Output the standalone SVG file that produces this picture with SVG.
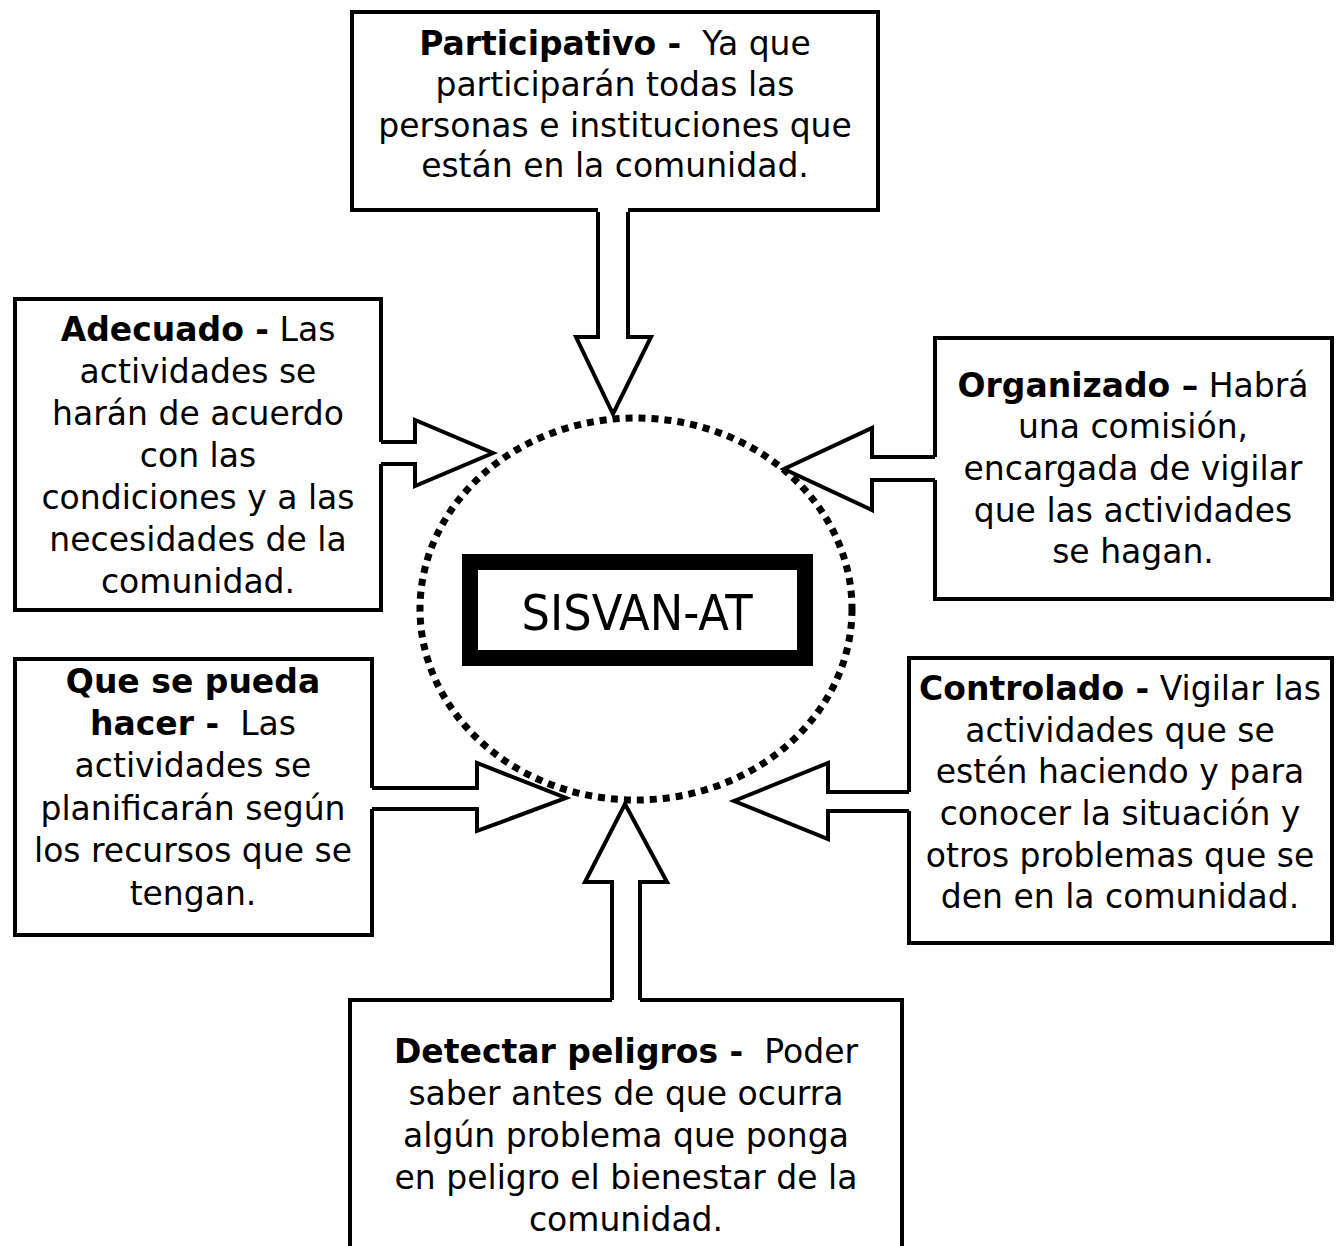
<svg xmlns="http://www.w3.org/2000/svg" width="1338" height="1246" viewBox="0 0 1338 1246">
<style>
.box{fill:#fff;stroke:#000;stroke-width:4}
.t{font-family:"DejaVu Sans","Liberation Sans",sans-serif;font-size:33px;fill:#000;text-anchor:middle}
.b{font-weight:bold}
.af{fill:#fff;stroke:none}
.as{fill:none;stroke:#000;stroke-width:4;stroke-linejoin:miter}
</style>
<rect width="1338" height="1246" fill="#fff"/>

<g id="participativo">
<rect class="box" x="352" y="12" width="526" height="198"/>
<text class="t" x="615" y="55" xml:space="preserve"><tspan class="b">Participativo -</tspan>  Ya que</text>
<text class="t" x="615" y="96">participarán todas las</text>
<text class="t" x="615" y="137">personas e instituciones que</text>
<text class="t" x="615" y="177">están en la comunidad.</text>
</g>

<g id="adecuado">
<rect class="box" x="15" y="299" width="366" height="311"/>
<text class="t" x="198" y="341"><tspan class="b">Adecuado -</tspan> Las</text>
<text class="t" x="198" y="383">actividades se</text>
<text class="t" x="198" y="425">harán de acuerdo</text>
<text class="t" x="198" y="467">con las</text>
<text class="t" x="198" y="509">condiciones y a las</text>
<text class="t" x="198" y="551">necesidades de la</text>
<text class="t" x="198" y="593">comunidad.</text>
</g>

<g id="organizado">
<rect class="box" x="935" y="338" width="397" height="261"/>
<text class="t" x="1133" y="397"><tspan class="b">Organizado –</tspan> Habrá</text>
<text class="t" x="1133" y="438">una comisión,</text>
<text class="t" x="1133" y="480">encargada de vigilar</text>
<text class="t" x="1133" y="522">que las actividades</text>
<text class="t" x="1133" y="563">se hagan.</text>
</g>

<g id="que-se-pueda">
<rect class="box" x="15" y="659" width="357" height="276"/>
<text class="t b" x="193" y="693">Que se pueda</text>
<text class="t" x="193" y="735" xml:space="preserve"><tspan class="b">hacer -</tspan>  Las</text>
<text class="t" x="193" y="777">actividades se</text>
<text class="t" x="193" y="820">planificarán según</text>
<text class="t" x="193" y="862">los recursos que se</text>
<text class="t" x="193" y="905">tengan.</text>
</g>

<g id="controlado">
<rect class="box" x="909" y="658" width="423" height="285"/>
<text class="t" x="1120" y="700"><tspan class="b">Controlado -</tspan> Vigilar las</text>
<text class="t" x="1120" y="742">actividades que se</text>
<text class="t" x="1120" y="783">estén haciendo y para</text>
<text class="t" x="1120" y="825">conocer la situación y</text>
<text class="t" x="1120" y="867">otros problemas que se</text>
<text class="t" x="1120" y="908">den en la comunidad.</text>
</g>

<g id="detectar">
<rect class="box" x="350" y="1000" width="552" height="270"/>
<text class="t" x="626" y="1063" xml:space="preserve"><tspan class="b">Detectar peligros -</tspan>  Poder</text>
<text class="t" x="626" y="1105">saber antes de que ocurra</text>
<text class="t" x="626" y="1147">algún problema que ponga</text>
<text class="t" x="626" y="1189">en peligro el bienestar de la</text>
<text class="t" x="626" y="1231">comunidad.</text>
</g>

<g id="connectors">
<polygon class="af" points="598,205 598,337 576,337 613,414 651,337 628,337 628,205"/>
<polyline class="as" points="598,212 598,337 576,337 613,414 651,337 628,337 628,212"/>
<polygon class="af" points="376,442 415,442 415,420 493,453 415,486 415,464 376,464"/>
<polyline class="as" points="381,442 415,442 415,420 493,453 415,486 415,464 381,464"/>
<polygon class="af" points="940,457 872,457 872,428 784,469 872,510 872,480 940,480"/>
<polyline class="as" points="935,457 872,457 872,428 784,469 872,510 872,480 935,480"/>
<polygon class="af" points="367,788 477,788 477,763 566,798 477,831 477,809 367,809"/>
<polyline class="as" points="372,788 477,788 477,763 566,798 477,831 477,809 372,809"/>
<polygon class="af" points="914,792 828,792 828,763 734,801 828,839 828,811 914,811"/>
<polyline class="as" points="909,792 828,792 828,763 734,801 828,839 828,811 909,811"/>
<polygon class="af" points="612,1005 612,882 585,882 625,804 667,882 640,882 640,1005"/>
<polyline class="as" points="612,1000 612,882 585,882 625,804 667,882 640,882 640,1000"/>
</g>

<g id="sisvan">
<ellipse cx="636" cy="609" rx="216" ry="191" fill="none" stroke="#000" stroke-width="7" stroke-dasharray="7 6"/>
<rect x="470" y="562" width="335" height="96" fill="#fff" stroke="#000" stroke-width="16"/>
<text x="637" y="630" font-family="DejaVu Sans Condensed,DejaVu Sans,sans-serif" font-size="50" text-anchor="middle" textLength="231" lengthAdjust="spacingAndGlyphs">SISVAN-AT</text>
</g>
</svg>
